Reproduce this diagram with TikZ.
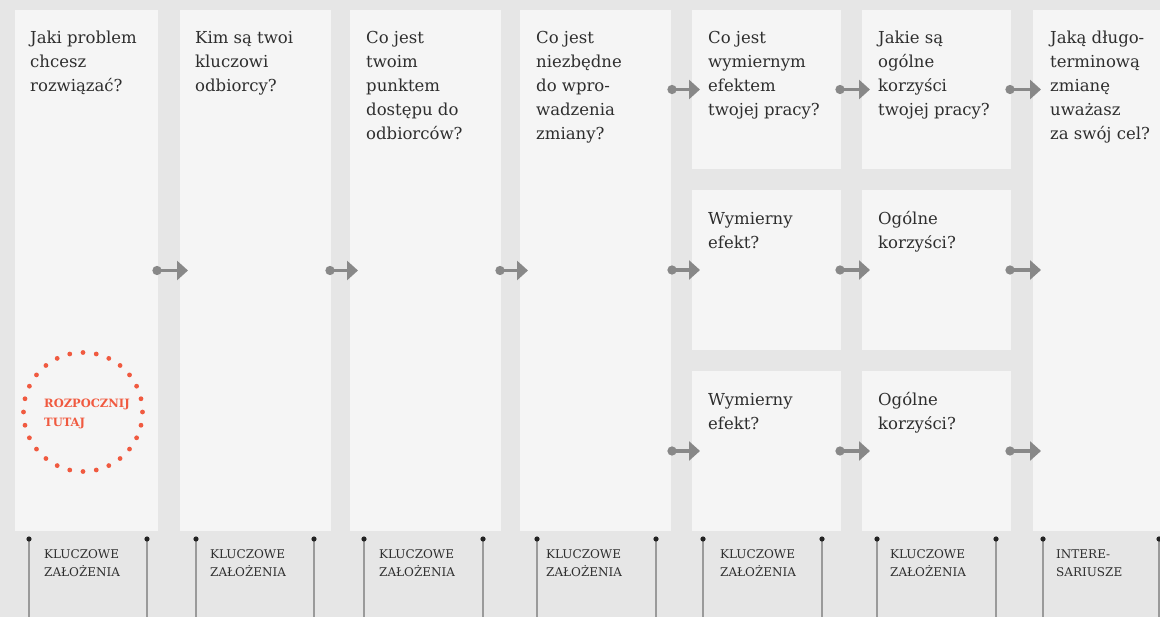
\documentclass[tikz,border=0pt]{standalone}
\usepackage{fontspec}
\setmainfont{DejaVu Serif}
\usetikzlibrary{arrows.meta,calc}
\definecolor{canvas}{HTML}{E6E6E6}
\definecolor{cardfill}{HTML}{F5F5F5}
\definecolor{ink}{HTML}{2E2E2E}
\definecolor{flowgray}{HTML}{888888}
\definecolor{rulegray}{HTML}{9A9A9A}
\definecolor{pinblack}{HTML}{222222}
\definecolor{accent}{HTML}{F05A40}
% invisible strut that fixes the first baseline below a node's top edge
\newcommand\firstline[1]{\rule{0pt}{#1}}
\begin{document}
\begin{tikzpicture}[x=1pt,y=-1pt,
  card/.style={fill=cardfill, draw=none, inner sep=0pt, outer sep=0pt, anchor=north west},
  qtext/.style={anchor=north west, inner sep=0pt, align=left, text=ink,
    font=\fontsize{16.5}{24}\selectfont},
  tag/.style={anchor=north west, inner sep=0pt, align=left, text=ink,
    font=\fontsize{12}{18}\selectfont},
  flow/.style={draw=flowgray, line width=3.5pt,
    {Circle[length=9pt,width=9pt]}-{Triangle[length=11pt,width=19pt]}},
  pinline/.style={draw=rulegray, line width=1.1pt},
  pindot/.style={fill=pinblack},
]
\fill[canvas] (0,0) rectangle (1160,617);
\useasboundingbox (0,0) rectangle (1160,617);

% columns
\node[card, minimum width=143, minimum height=521] (c1) at (15,10) {};
\node[card, minimum width=151, minimum height=521] (c2) at (180,10) {};
\node[card, minimum width=151, minimum height=521] (c3) at (350,10) {};
\node[card, minimum width=151, minimum height=521] (c4) at (520,10) {};
\node[card, minimum width=149, minimum height=159] (c5a) at (692,10) {};
\node[card, minimum width=149, minimum height=160] (c5b) at (692,190) {};
\node[card, minimum width=149, minimum height=160] (c5c) at (692,371) {};
\node[card, minimum width=149, minimum height=159] (c6a) at (862,10) {};
\node[card, minimum width=149, minimum height=160] (c6b) at (862,190) {};
\node[card, minimum width=149, minimum height=160] (c6c) at (862,371) {};
\node[card, minimum width=140, minimum height=521] (c7) at (1033,10) {};

% questions
\node[qtext] (q1) at (30,26) {\firstline{17pt}Jaki problem\\chcesz\\rozwiązać?};
\node[qtext] (q2) at (195,26) {\firstline{17pt}Kim są twoi\\kluczowi\\odbiorcy?};
\node[qtext] (q3) at (366,26) {\firstline{17pt}Co jest\\twoim\\punktem\\dostępu do\\odbiorców?};
\node[qtext] (q4) at (536,26) {\firstline{17pt}Co jest\\niezbędne\\do wpro-\\wadzenia\\zmiany?};
\node[qtext] (q5a) at (708,26) {\firstline{17pt}Co jest\\wymiernym\\efektem\\twojej pracy?};
\node[qtext] (q5b) at (708,207) {\firstline{17pt}Wymierny\\efekt?};
\node[qtext] (q5c) at (708,388) {\firstline{17pt}Wymierny\\efekt?};
\node[qtext] (q6a) at (878,26) {\firstline{17pt}Jakie są\\ogólne\\korzyści\\twojej pracy?};
\node[qtext] (q6b) at (878,207) {\firstline{17pt}Ogólne\\korzyści?};
\node[qtext] (q6c) at (878,388) {\firstline{17pt}Ogólne\\korzyści?};
\node[qtext] (q7) at (1050,26) {\firstline{17pt}Jaką długo-\\terminową\\zmianę\\uważasz\\za swój cel?};

% arrow end points
\coordinate (s4a) at (c4.east |- c5a.west);
\coordinate (s4b) at (c4.east |- c5b.west);
\coordinate (s4c) at (c4.east |- c5c.west);
\coordinate (t7a) at (c7.west |- c6a.east);
\coordinate (t7b) at (c7.west |- c6b.east);
\coordinate (t7c) at (c7.west |- c6c.east);

% flow arrows
\draw[flow] ($(c1.east)+(-5.5,0)$) -- ($(c2.west)+(8,0)$);
\draw[flow] ($(c2.east)+(-5.5,0)$) -- ($(c3.west)+(8,0)$);
\draw[flow] ($(c3.east)+(-5.5,0)$) -- ($(c4.west)+(8,0)$);
\draw[flow] ($(s4a)+(-3.5,0)$) -- ($(c5a.west)+(8,0)$);
\draw[flow] ($(s4b)+(-3.5,0)$) -- ($(c5b.west)+(8,0)$);
\draw[flow] ($(s4c)+(-3.5,0)$) -- ($(c5c.west)+(8,0)$);
\draw[flow] ($(c5a.east)+(-5.5,0)$) -- ($(c6a.west)+(8,0)$);
\draw[flow] ($(c5b.east)+(-5.5,0)$) -- ($(c6b.west)+(8,0)$);
\draw[flow] ($(c5c.east)+(-5.5,0)$) -- ($(c6c.west)+(8,0)$);
\draw[flow] ($(c6a.east)+(-5.5,0)$) -- ($(t7a)+(8,0)$);
\draw[flow] ($(c6b.east)+(-5.5,0)$) -- ($(t7b)+(8,0)$);
\draw[flow] ($(c6c.east)+(-5.5,0)$) -- ($(t7c)+(8,0)$);

% start marker
\node[circle, minimum size=119, inner sep=0pt] (ring) at (83,412) {};
\foreach \i in {0,...,27}
  \fill[accent] ($(ring.center)+({\i*360/28}:59.5)$) circle (2.4);
\node[anchor=north west, inner sep=0pt, align=left, text=accent,
  font=\fontsize{11.5}{19.5}\selectfont\bfseries] (start) at (44,397)
  {\firstline{10pt}ROZPOCZNIJ\\TUTAJ};

% assumption rulers under the columns
\foreach \x in {29,147,196,314,364,483,537,656,703,822,877,996,1043,1159} {
  \draw[pinline] (\x,539) -- (\x,617);
  \fill[pindot] (\x,539) circle (2.6);
}
\node[tag] (k1) at (44,546) {\firstline{12pt}KLUCZOWE\\ZAŁOŻENIA};
\node[tag] (k2) at (210,546) {\firstline{12pt}KLUCZOWE\\ZAŁOŻENIA};
\node[tag] (k3) at (379,546) {\firstline{12pt}KLUCZOWE\\ZAŁOŻENIA};
\node[tag] (k4) at (546,546) {\firstline{12pt}KLUCZOWE\\ZAŁOŻENIA};
\node[tag] (k5) at (720,546) {\firstline{12pt}KLUCZOWE\\ZAŁOŻENIA};
\node[tag] (k6) at (890,546) {\firstline{12pt}KLUCZOWE\\ZAŁOŻENIA};
\node[tag] (k7) at (1056,546) {\firstline{12pt}INTERE-\\SARIUSZE};
\end{tikzpicture}
\end{document}
